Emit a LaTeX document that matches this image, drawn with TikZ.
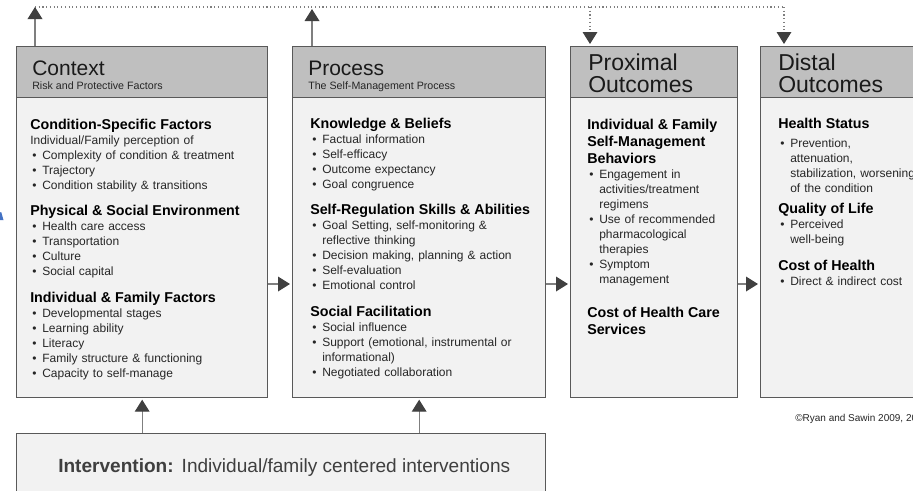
\documentclass[tikz,border=0pt]{standalone}
\usepackage{fontspec}
\setmainfont{Liberation Sans}
\usetikzlibrary{arrows.meta}

\definecolor{hdrc}{HTML}{BFBFBF}
\definecolor{bodyc}{HTML}{F2F2F2}
\definecolor{bordc}{HTML}{595959}
\definecolor{linec}{HTML}{7F7F7F}
\definecolor{headc}{HTML}{404040}
\definecolor{txtc}{HTML}{262626}
\definecolor{ttlc}{HTML}{1A1A1A}
\definecolor{intc}{HTML}{3F3F3F}
\definecolor{markc}{HTML}{4472C4}

% section heading, plain line and bulleted line inside a box body
\newcommand\hd[1]{\noindent{\fontsize{10.7}{12.75}\selectfont\bfseries\color{black}#1\par}}
\newcommand\pl[1]{\par\noindent #1\par}
\newcommand\bl[1]{\par\hangindent=9pt\hangafter=1\noindent\hbox to 9pt{\hskip1.5pt\textbullet\hss}#1\par}

\begin{document}
\begin{tikzpicture}[x=0.75pt,y=-0.75pt,
  boxsz/.style 2 args={minimum width=#1*0.75pt, minimum height=#2*0.75pt},
  hdr/.style={draw=bordc, fill=hdrc, line width=1pt, anchor=north west, inner sep=0pt},
  bdy/.style={draw=bordc, fill=bodyc, line width=1pt, anchor=north west, inner sep=0pt},
  ttl/.style={anchor=base west, inner sep=0pt, text=ttlc, font=\fontsize{15.75}{18}\selectfont},
  ttlbig/.style={anchor=base west, inner sep=0pt, text=ttlc, text width=150pt, align=left,
                 font=\fontsize{17.25}{17}\selectfont},
  subt/.style={anchor=base west, inner sep=0pt, text=txtc, font=\fontsize{8}{9}\selectfont},
  sec/.style={anchor=base west, inner sep=0pt, text=txtc, text width=#1*0.75pt, align=left,
              font=\fontsize{9}{11.25}\selectfont},
  flow/.style={draw=linec, line width=1pt, -{Triangle[length=9pt,width=11pt,color=headc]}},
  fbline/.style={draw=linec, line width=0.8pt, dotted},
  fbdown/.style={draw=linec, line width=0.8pt, dotted, -{Triangle[length=9pt,width=11pt,color=headc]}}
]
\useasboundingbox (0,0) rectangle (913,490);
\clip (0,0) rectangle (913,490);

% ---- Context ----
\node[hdr, boxsz={251}{51}] (ctxH) at (16,46) {};
\node[bdy, boxsz={251}{300}] (ctxB) at (16,97) {};
\node[ttl] (ctxT) at (32,75) {Context};
\node[subt] (ctxS) at (32,89) {Risk and Protective Factors};
\node[sec=235] (ctx1) at (30,129) {\hd{Condition-Specific Factors}
  \pl{Individual/Family perception of}\vspace{0.5pt}
  \bl{Complexity of condition \& treatment}\bl{Trajectory}\bl{Condition stability \& transitions}};
\node[sec=235] (ctx2) at (30,215) {\hd{Physical \& Social Environment}
  \bl{Health care access}\bl{Transportation}\bl{Culture}\bl{Social capital}};
\node[sec=235] (ctx3) at (30,302) {\hd{Individual \& Family Factors}
  \bl{Developmental stages}\bl{Learning ability}\bl{Literacy}
  \bl{Family structure \& functioning}\bl{Capacity to self-manage}};

% ---- Process ----
\node[hdr, boxsz={253}{51}] (prcH) at (292,46) {};
\node[bdy, boxsz={253}{300}] (prcB) at (292,97) {};
\node[ttl] (prcT) at (308,75) {Process};
\node[subt] (prcS) at (308,89) {The Self-Management Process};
\node[sec=235] (prc1) at (310,128) {\hd{Knowledge \& Beliefs}
  \bl{Factual information}\bl{Self-efficacy}\bl{Outcome expectancy}\bl{Goal congruence}};
\node[sec=235] (prc2) at (310,214) {\hd{Self-Regulation Skills \& Abilities}
  \bl{Goal Setting, self-monitoring \&\newline reflective thinking}
  \bl{Decision making, planning \& action}\bl{Self-evaluation}\bl{Emotional control}};
\node[sec=235] (prc3) at (310,316) {\hd{Social Facilitation}
  \bl{Social influence}\bl{Support (emotional, instrumental or\newline informational)}
  \bl{Negotiated collaboration}};

% ---- Proximal outcomes ----
\node[hdr, boxsz={167}{51}] (pxH) at (570,46) {};
\node[bdy, boxsz={167}{300}] (pxB) at (570,97) {};
\node[ttlbig] (pxT) at (588,70) {Proximal\newline Outcomes};
\node[sec=150] (px1) at (587,129) {\hd{Individual \& Family\newline Self-Management\newline Behaviors}
  \bl{Engagement in\newline activities/treatment\newline regimens}
  \bl{Use of recommended\newline pharmacological\newline therapies}
  \bl{Symptom\newline management}};
\node[sec=150] (px2) at (587,317) {\hd{Cost of Health Care\newline Services}};

% ---- Distal outcomes ----
\node[hdr, boxsz={200}{51}] (dsH) at (760,46) {};
\node[bdy, boxsz={200}{300}] (dsB) at (760,97) {};
\node[ttlbig] (dsT) at (778,70) {Distal\newline Outcomes};
\node[sec=180] (ds1) at (778,128) {\hd{Health Status}\vspace{3pt}
  \bl{Prevention,\newline attenuation,\newline stabilization, worsening\newline of the condition}};
\node[sec=180] (ds2) at (778,213) {\hd{Quality of Life}
  \bl{Perceived\newline well-being}};
\node[sec=180] (ds3) at (778,270) {\hd{Cost of Health}
  \bl{Direct \& indirect cost}};

% ---- Intervention ----
\node[bdy, boxsz={529}{80}] (intv) at (16,433) {};
\node[anchor=base west, inner sep=0pt, text=intc, font=\fontsize{14.3}{17}\selectfont] (intvT) at (58,472)
  {\textbf{Intervention:}\hspace{6pt}Individual/family centered interventions};

\node[anchor=base west, inner sep=0pt, text=txtc, font=\fontsize{7.5}{9}\selectfont] (copy) at (795,421)
  {\copyright Ryan and Sawin 2009, 2014};

% ---- feedback loop along the top ----
\coordinate (fbL) at (35,7);
\coordinate (fbP) at (312,7);
\coordinate (fbX) at (590,7);
\coordinate (fbD) at (784,7);
\draw[fbline] (fbL) -- (fbD);
\draw[flow] (ctxH.north -| fbL) -- (fbL);
\draw[flow] (prcH.north -| fbP) -- ([yshift=-1.5pt]fbP);
\draw[fbdown] (fbX) -- ([yshift=1.5pt]pxH.north -| fbX);
\draw[fbdown] (fbD) -- ([yshift=1.5pt]dsH.north -| fbD);

% ---- flow between the boxes ----
\coordinate (hy) at (0,284);
\draw[flow, shorten >=1.5pt] (ctxB.east |- hy) -- (prcB.west |- hy);
\draw[flow, shorten >=1.5pt] (prcB.east |- hy) -- (pxB.west |- hy);
\draw[flow, shorten >=1.5pt] (pxB.east |- hy) -- (dsB.west |- hy);
\draw[flow, shorten >=1pt] (intv.north -| ctxB.south) -- (ctxB.south);
\draw[flow, shorten >=1pt] (intv.north -| prcB.south) -- (prcB.south);

% small blue mark at the left edge
\fill[markc] (0,220) -- (3.5,220) -- (1.2,212) -- (0,212.5) -- cycle;
\end{tikzpicture}
\end{document}
